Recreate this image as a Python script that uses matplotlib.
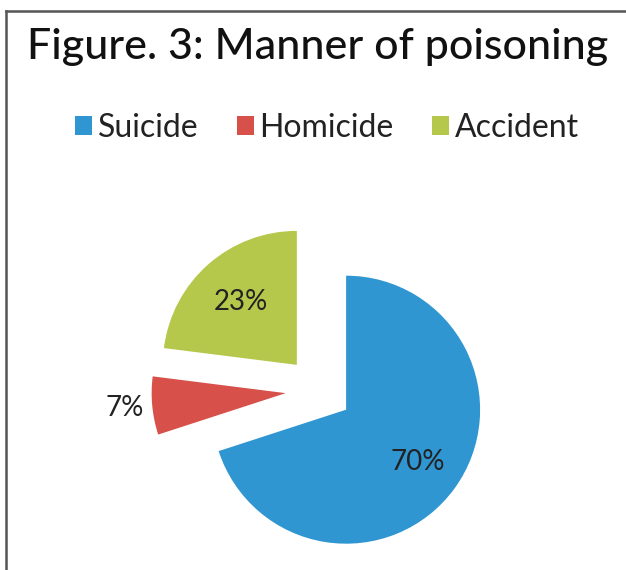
import math
from matplotlib import pyplot as plt
from matplotlib.lines import Line2D

plt.rcParams['font.family'] = ['Lato', 'DejaVu Sans']

# data
labels = ['Suicide', 'Homicide', 'Accident']
shares = [70, 7, 23]
pct_text = ['70%', '7%', '23%']
colors = ['#2F96D2', '#D8504A', '#B6C84C']

W, H = 626, 570
fig = plt.figure(figsize=(W / 100, H / 100), dpi=100)

# pie centre (px) and radius (px) -> axes in units of radius
cx, cy, rpx = 319, 390, 134
ax = fig.add_axes([0, 0, 1, 1])
wedges, _ = ax.pie(shares, colors=colors, startangle=90, counterclock=False,
                   explode=[0.25, 0.25, 0.25], radius=1,
                   wedgeprops=dict(linewidth=0))
ax.set_xlim(-cx / rpx, (W - cx) / rpx)
ax.set_ylim(-(H - cy) / rpx, cy / rpx)
ax.set_aspect('equal')
ax.axis('off')

# percentage labels (the small slice is labelled outside)
dist = [0.66, 1.21, 0.63]
for w, txt, d in zip(wedges, pct_text, dist):
    th = math.radians((w.theta1 + w.theta2) / 2)
    x0, y0 = w.center
    ax.text(x0 + d * w.r * math.cos(th), y0 + d * w.r * math.sin(th), txt,
            ha='center', va='center', fontsize=20, color='#222222')

fig.text(318 / W, 1 - 59 / H, 'Figure. 3: Manner of poisoning',
         ha='center', va='baseline', fontsize=31, color='#111111',
         fontweight='medium')

fig.legend(wedges, labels, loc='center', bbox_to_anchor=(327 / W, 1 - 128 / H),
           ncol=3, frameon=False, fontsize=23, handlelength=0.53,
           handleheight=0.53, handletextpad=0.18, columnspacing=1.2,
           labelcolor='#222222')

# frame lines (top and left)
fig.add_artist(Line2D([6 / W, 1], [1 - 11 / H, 1 - 11 / H], color='#555555', lw=1.8))
fig.add_artist(Line2D([6 / W, 6 / W], [0, 1 - 11 / H], color='#555555', lw=1.8))

fig.savefig('out.png', dpi=100)
